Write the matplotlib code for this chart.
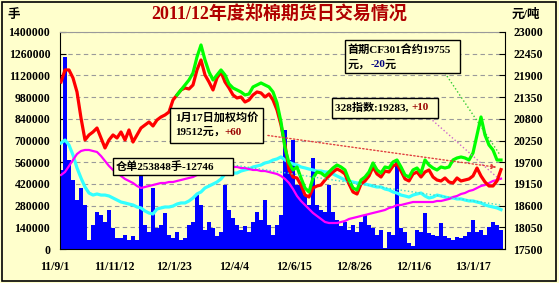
import matplotlib
matplotlib.use("Agg")
import matplotlib.pyplot as plt
import numpy as np
from matplotlib.patches import Rectangle

plt.rcParams['font.family'] = ['Liberation Serif', 'Noto Sans CJK SC', 'DejaVu Sans']
plt.rcParams['font.weight'] = 'bold'

# ---- data ----
# daily volume, thousand lots (left axis)
volume_k = [510, 1239, 574, 445, 316, 394, 284, 58, 155, 239,
            219, 174, 252, 135, 71, 71, 90, 58, 84, 58,
            477, 155, 110, 394, 135, 155, 232, 90, 71, 110,
            58, 71, 155, 174, 348, 284, 123, 174, 135, 84,
            110, 413, 252, 200, 155, 123, 148, 110, 174, 239,
            187, 316, 155, 90, 155, 219, 768, 574, 703, 413,
            432, 348, 284, 587, 284, 252, 239, 413, 239, 187,
            148, 174, 123, 155, 110, 174, 219, 155, 135, 90,
            123, 6, 110, 90, 574, 135, 110, 39, 19, 123,
            110, 232, 103, 90, 84, 168, 84, 71, 58, 77,
            71, 84, 110, 187, 110, 123, 90, 142, 174, 155,
            123]

# warehouse receipts, thousand lots (left axis)
receipts_k = [684, 703, 671, 606, 523, 458, 400, 361, 348, 355,
              348, 348, 342, 329, 316, 303, 297, 290, 284, 271,
              265, 245, 232, 226, 258, 265, 271, 271, 277, 290,
              297, 297, 310, 329, 355, 368, 394, 406, 419, 432,
              452, 484, 497, 490, 490, 503, 510, 516, 529, 535,
              542, 555, 561, 574, 581, 594, 574, 561, 548, 542,
              529, 523, 516, 510, 503, 503, 497, 497, 484, 471,
              458, 445, 439, 432, 426, 426, 419, 413, 406, 400,
              400, 387, 381, 368, 361, 348, 342, 335, 348, 355,
              361, 342, 329, 335, 348, 342, 335, 329, 329, 323,
              323, 316, 310, 310, 303, 297, 284, 277, 271, 265,
              254]

# weighted average price, yuan/t (right axis)
avg_price = [21733, 22038, 22038, 21835, 21480, 20821, 20263, 20390, 20466, 20567,
             20314, 20060, 20263, 20390, 20314, 20466, 20263, 20517, 20212, 20390,
             20567, 20643, 20719, 20618, 20770, 20846, 20897, 20973, 21277, 21404,
             21531, 21581, 21556, 21657, 22038, 22291, 21911, 21733, 21531, 21835,
             21987, 21733, 21581, 21404, 21328, 21353, 21226, 21277, 21404, 21480,
             21455, 21353, 21429, 21277, 21024, 20643, 20136, 19503, 19325, 19300,
             19122, 18869, 18818, 19046, 19097, 19122, 19249, 19351, 19452, 19528,
             19477, 19401, 19148, 18945, 18894, 19148, 19224, 19351, 19579, 19401,
             19325, 19477, 19452, 19604, 19655, 19477, 19275, 19224, 19401, 19452,
             19325, 19452, 19503, 19325, 19249, 19224, 19300, 19198, 19173, 19300,
             19224, 19249, 19275, 19351, 19553, 19351, 19198, 19097, 19097, 19224,
             19512]

# CF301 contract, starts later (right axis)
cf301_start = 29
cf301 = [21404, 21531, 21657, 21784, 21962, 22367, 22671, 22291, 21987, 21784,
         21911, 22038, 21911, 21683, 21581, 21531, 21480, 21404, 21429, 21607,
         21657, 21708, 21657, 21607, 21480, 21201, 20719, 20060, 19680, 19503,
         19579, 19300, 19046, 18945, 19300, 19452, 19427, 19351, 19452, 19553,
         19629, 19579, 19503, 19249, 19046, 18996, 19249, 19325, 19452, 19680,
         19503, 19427, 19579, 19553, 19705, 19756, 19579, 19376, 19325, 19503,
         19553, 19427, 19756, 19629, 19553, 19503, 19579, 19553, 19579, 19756,
         19807, 19832, 19807, 19756, 19934, 20390, 20846, 20390, 20136, 20010,
         19756, 19755]

# 328 index (right axis)
index328 = [19376, 19452, 19604, 19756, 19908, 19984, 20010, 20010, 19984, 19959,
            19857, 19731, 19604, 19503, 19427, 19351, 19275, 19224, 19173, 19097,
            19046, 19072, 19097, 19122, 19148, 19173, 19173, 19198, 19198, 19224,
            19249, 19275, 19300, 19325, 19376, 19427, 19477, 19528, 19553, 19579,
            19604, 19604, 19604, 19579, 19579, 19553, 19553, 19528, 19503, 19503,
            19477, 19477, 19452, 19427, 19401, 19351, 19275, 19173, 19021, 18844,
            18717, 18615, 18514, 18413, 18337, 18261, 18184, 18159, 18159, 18159,
            18184, 18210, 18261, 18286, 18311, 18337, 18362, 18387, 18413, 18438,
            18463, 18489, 18539, 18565, 18615, 18615, 18641, 18666, 18691, 18691,
            18691, 18691, 18691, 18691, 18717, 18717, 18742, 18768, 18818, 18844,
            18894, 18920, 18970, 18996, 19046, 19097, 19122, 19173, 19224, 19249,
            19283]

date_labels = ['11/9/1', '11/11/12', '12/1/23', '12/4/4', '12/6/15', '12/8/26', '12/11/6', '13/1/17']
left_ticks = np.arange(0, 1400001, 140000)
right_ticks = np.arange(17500, 23001, 550)

# ---- plot ----
bg = '#FFFFCC'
fig = plt.figure(figsize=(5.59, 2.83), dpi=100, facecolor=bg)
ax = fig.add_axes([60 / 559, 1 - 249 / 283, 445 / 559, 217 / 283])
ax.set_facecolor(bg)

x = np.arange(len(volume_k))
ax.bar(x, np.array(volume_k) * 1000, width=0.85, color='#0000FF', zorder=2)
ax.plot(x, np.array(receipts_k) * 1000, color='#33FFFF', lw=2.3, zorder=3)

ax.set_xlim(-0.25, 111)
ax.set_ylim(0, 1400000)
ax.set_yticks(left_ticks)
ax.set_yticklabels([str(v) for v in left_ticks])
ax.set_xticks([])
ax.yaxis.grid(True, ls=(0, (4, 3)), color='#9A9A9A', lw=0.8)
ax.set_axisbelow(True)
ax.tick_params(axis='y', direction='in', length=4, labelsize=8.5, pad=7)
ax.spines['top'].set_color('#9A9A9A')
ax.spines['right'].set_visible(False)

ax2 = ax.twinx()
ax2.plot(x, index328, color='#FF00FF', lw=1.6, zorder=2)
ax2.plot(x, avg_price, color='#FF0000', lw=2.3, zorder=3)
ax2.plot(x[cf301_start:], cf301, color='#00FF00', lw=2.3, zorder=4)
ax2.set_ylim(17500, 23000)
ax2.set_yticks(right_ticks)
ax2.set_yticklabels([str(v) for v in right_ticks])
ax2.tick_params(axis='y', direction='in', length=4, labelsize=8.5, pad=6)
for s in ['top', 'left', 'bottom']:
    ax2.spines[s].set_visible(False)

# date labels along the bottom
for pos, lab in zip(np.linspace(-1.5, 103, len(date_labels)), date_labels):
    ax.text(pos, -0.083, lab, transform=ax.get_xaxis_transform(), ha='center', va='center',
            fontsize=8.5, clip_on=False)

# connector lines from the boxes
T = ax2.transAxes
ax2.plot([0.865, 0.989], [0.811, 0.433], transform=T, ls=':', lw=1, color='#33CC33', clip_on=False, zorder=5)
ax2.plot([0.831, 0.984], [0.604, 0.327], transform=T, ls=':', lw=1, color='#CC66CC', clip_on=False, zorder=5)
ax2.plot([0.389, 0.989], [0.387, 0.203], transform=T, ls=':', lw=1, color='#40D8C8', clip_on=False, zorder=5)
ax2.annotate('', xy=(0.987, 0.375), xytext=(0.461, 0.525), xycoords=T, textcoords=T,
             arrowprops=dict(arrowstyle='-|>', ls=':', lw=1, color='#E04040', mutation_scale=7), zorder=5)


def box(x0, y0, x1, y1):
    ax2.add_patch(Rectangle((x0, y0), x1 - x0, y1 - y0, transform=T, facecolor=bg,
                            edgecolor='black', lw=1, zorder=6, clip_on=False))


def label(xp, yp, parts):
    t = ax2.text(xp, yp, parts[0][0], transform=T, color=parts[0][1], fontsize=8,
                 ha='left', va='center', zorder=7)
    for s, c in parts[1:]:
        t = ax2.annotate(s, xy=(1, 0.5), xycoords=t, color=c, fontsize=8,
                         ha='left', va='center', zorder=7)


box(0.247, 0.488, 0.456, 0.650)
label(0.258, 0.608, [('1月17日加权均价', 'black')])
label(0.258, 0.539, [('19512元，', 'black'), ('+60', '#990000')])

box(0.119, 0.341, 0.389, 0.419)
label(0.126, 0.382, [('仓单253848手-12746', 'black')])

box(0.640, 0.811, 0.899, 0.963)
label(0.647, 0.917, [('首期CF301合约19755', 'black')])
label(0.647, 0.848, [('元，', 'black'), ('-20', '#000080'), ('元', 'black')])

box(0.611, 0.604, 0.849, 0.696)
label(0.618, 0.650, [('328指数:19283, ', 'black'), ('+10', '#990000')])

# titles and units
fig.text(0.5, 0.947, '2011/12年度郑棉期货日交易情况', ha='center', va='center',
         fontsize=13, color='#B00000')
fig.text(14 / 559, 0.947, '手', ha='center', va='center', fontsize=9)
fig.text(526 / 559, 0.947, '元/吨', ha='center', va='center', fontsize=9)

fig.add_artist(Rectangle((0.003, 0.006), 0.992, 0.988, transform=fig.transFigure,
                         fill=False, edgecolor='black', lw=1.2))

fig.savefig('out.png', dpi=100, facecolor=bg)
